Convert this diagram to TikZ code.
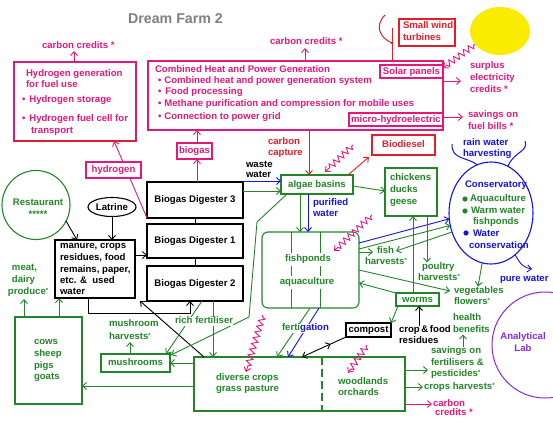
\documentclass[tikz,border=0pt]{standalone}
\usepackage{fontspec}
\setmainfont{Liberation Sans}
\usetikzlibrary{arrows.meta,fit,decorations.pathmorphing,decorations.markings,shapes.geometric}
\definecolor{mag}{RGB}{228,24,122}
\definecolor{rd}{RGB}{226,30,40}
\definecolor{gr}{RGB}{34,134,40}
\definecolor{bl}{RGB}{20,20,225}
\definecolor{pu}{RGB}{140,40,225}
\definecolor{sunc}{RGB}{250,236,0}
\definecolor{ttl}{RGB}{128,128,128}
\newcommand\ff{\bfseries\fontsize{9.6}{11.5}\selectfont}
\newcommand\sst{\raisebox{2pt}{\fontsize{6}{6}\selectfont*}}
\begin{document}
\begin{tikzpicture}[x=1pt,y=-1pt,
  every node/.style={inner sep=0pt,outer sep=0pt},
  t/.style={font=\ff,text height=7pt,text depth=2pt,anchor=west},
  tc/.style={font=\ff,text height=7pt,text depth=2pt,anchor=center},
  box/.style={draw,line width=1.1pt,font=\ff,text height=7pt,text depth=2pt},
  bsz/.style 2 args={minimum width=#1pt,minimum height=#2pt},
  ar/.style={-{Straight Barb[length=4pt,width=7pt]},line width=0.9pt},
  zz/.style={mag,line width=0.9pt,decorate,decoration={zigzag,segment length=6pt,amplitude=3pt,pre length=2pt,post length=4pt}},
  midback/.style={postaction={decorate},decoration={markings,mark=at position 0.35 with {\arrowreversed{Straight Barb[length=4pt,width=7pt]}}}}
]
\useasboundingbox (0,0) rectangle (553,423);
\fill[white] (0,0) rectangle (553,423);

% title
\node[font=\bfseries\fontsize{14.2}{16}\selectfont,text=ttl] (title) at (175.5,18.5) {Dream Farm 2};

% hydrogen generation
\node[box,draw=mag,fit={(14,62)(136,141)}] (hyd) {};
\draw[rd,line width=1.4pt] (hyd.south west) -- (hyd.south east);
\node[t,text=mag] (hyd1) at (26,74) {Hydrogen generation};
\node[t,text=mag] (hyd2) at (26,85) {for fuel use};
\node[t,text=mag] (hyd3) at (22,100) {•\hspace{4pt}Hydrogen storage};
\node[t,text=mag] (hyd4) at (22,119) {•\hspace{4pt}Hydrogen fuel cell for};
\node[t,text=mag] (hyd5) at (31,131) {transport};
\node[t,text=mag] (cc1) at (42,46) {carbon credits *};
\draw[ar,mag] (hyd.north -| 74,0) -- (74,51);

% CHP
\node[box,draw=mag,fit={(148,61)(443,130)}] (chp) {};
\node[t,text=mag] (chp0) at (155,70) {Combined Heat and Power Generation};
\node[t,text=mag] (chp1) at (158,81) {•\hspace{3pt}Combined heat and power generation system};
\node[t,text=mag] (chp2) at (158,92) {•\hspace{4pt}Food processing};
\node[t,text=mag] (chp3) at (158,104) {•\hspace{3pt}Methane purification and compression for mobile uses};
\node[t,text=mag] (chp4) at (158,117) {•\hspace{3pt}Connection to power grid};
\node[box,draw=mag,text=mag,fill=white,bsz={63}{13}] (solar) at (411.5,71.5) {Solar panels};
\node[box,draw=mag,text=mag,fill=white,bsz={94}{13}] (micro) at (396,119.5) {micro-hydroelectric};
\node[t,text=mag] (cc2) at (270,42) {carbon credits *};
\draw[ar,mag] (chp.north -| 305,0) -- (305,48);

% wind and sun
\node[box,draw=rd,fit={(399,19)(455,46)}] (wind) {};
\node[t,text=rd] (wind1) at (403,26) {Small wind};
\node[t,text=rd] (wind2) at (403,38) {turbines};
\draw[rd,line width=1pt] (chp.north -| 392,0) -- (392,28);
\draw[rd,line width=1pt] (385,15) .. controls (374,26) and (380,38) .. (392,43);
\fill[rd] (392,43) circle (1.5);
\node[ellipse,fill=sunc,minimum width=60pt,minimum height=48pt] (sun) at (500,31) {};
\draw[zz,ar] (sun.208) -- ([yshift=3.5pt]solar.east);

\node[t,text=mag] (sur1) at (470,66) {surplus};
\node[t,text=mag] (sur2) at (470,78) {electricity};
\node[t,text=mag] (sur3) at (470,90) {credits *};
\draw[ar,mag] (chp.east |- 0,81) -- (461,81);
\node[t,text=mag] (fb1) at (468,115) {savings on};
\node[t,text=mag] (fb2) at (468,127) {fuel bills *};
\draw[ar,mag] (micro.east |- 0,117) -- ([xshift=-5pt]fb1.west |- 0,117);

% algae, biodiesel
\node[box,draw=gr,text=gr,bsz={72}{19}] (alg) at (317,184.5) {algae basins};
\node[box,draw=rd,text=rd,bsz={63}{20}] (bio) at (403.5,145) {Biodiesel};
\node[t,text=rd] (cap1) at (268,142) {carbon};
\node[t,text=rd] (cap2) at (268,153) {capture};
\draw[ar,rd] (chp.south -| 309,0) -- (alg.north -| 309,0);
\draw[ar,rd] ([xshift=-5pt]alg.north east) -- ([xshift=-3pt,yshift=-2pt]bio.south west);
\draw[zz,ar] (353,145) -- (325,172);

% biogas digesters
\node[box,bsz={96}{36}] (bd3) at (195,200) {Biogas Digester 3};
\node[box,bsz={96}{34}] (bd1) at (195,241) {Biogas Digester 1};
\node[box,bsz={96}{35}] (bd2) at (195,283.5) {Biogas Digester 2};
\draw[line width=1pt] (bd3.south) -- (bd1.north);
\draw[line width=1pt] (bd1.south) -- (bd2.north);
\node[box,draw=mag,text=mag,bsz={35}{16}] (biogas) at (194.5,151) {biogas};
\draw[ar,mag] (bd3.north -| 197,0) -- (biogas.south -| 197,0);
\draw[ar,mag] (biogas.north -| 197,0) -- (chp.south -| 197,0);
\draw[ar,mag] (bd3.south west) -- (hyd.south -| 114,0);
\node[box,draw=mag,text=mag,fill=white,bsz={55}{16}] (hyg) at (113.5,170) {hydrogen};

\node[t] (ww1) at (246,165) {waste};
\node[t] (ww2) at (246,175) {water};
\draw[ar,bl] (bd3.east |- 0,181) -- (alg.west |- 0,181);
\draw[ar,gr] (bd3.east |- 0,191) -- (alg.west |- 0,191);

% latrine, restaurant, manure
\node[ellipse,draw,line width=1.1pt,minimum width=48pt,minimum height=19pt,font=\ff] (lat) at (112,207) {Latrine};
\node[ellipse,draw=gr,line width=1.1pt,minimum width=68pt,minimum height=69pt] (rest) at (36,205) {};
\node[tc,text=gr] (rest1) at (38,203) {Restaurant};
\node[tc,text=gr] (rest2) at (38,215) {*****};
\node[box,fit={(55,240)(135,298)}] (man) {};
\node[t] (man1) at (60,246) {manure, crops};
\node[t] (man2) at (60,258) {residues, food};
\node[t] (man3) at (60,270) {remains, paper,};
\node[t] (man4) at (60,281) {etc. \&\ \ used};
\node[t] (man5) at (60,292) {water};
\draw[ar] (lat.south) -- (lat.south |- man.north);
\draw[ar] (rest.332) -- (man.north -| 77,0);
\draw[ar] (man.east |- 0,255) -- (bd1.west |- 0,255);
\draw[ar] (man.south -| 88,0) -- (88,313) -- (190,313) -- (bd2.south -| 190,0);

% cows
\node[box,draw=gr,fit={(15,317)(82,404)}] (cows) {};
\node[t,text=gr] (cow1) at (34,342) {cows};
\node[t,text=gr] (cow2) at (34,354) {sheep};
\node[t,text=gr] (cow3) at (34,366) {pigs};
\node[t,text=gr] (cow4) at (34,377) {goats};
\node[t,text=gr] (mt1) at (12,268) {meat,};
\node[t,text=gr] (mt2) at (12,280) {dairy};
\node[t,text=gr] (mt3) at (8,292) {produce\sst};
\draw[ar,gr] (cows.north -| 24,0) -- (24,299);
\draw[ar,gr] (cows.north -| 59,0) -- (man.south -| 59,0);

% crops
\node[box,draw=gr,fit={(194,357)(405,411)}] (crops) {};
\draw[gr,line width=1.1pt,dash pattern=on 8pt off 4pt] (crops.north -| 322,0) -- (crops.south -| 322,0);
\node[t,text=gr] (cr1) at (216,378) {diverse crops};
\node[t,text=gr] (cr2) at (216,389) {grass pasture};
\node[t,text=gr] (wd1) at (338,382) {woodlands};
\node[t,text=gr] (wd2) at (338,393) {orchards};
\draw[ar] ([xshift=10pt]crops.north west) -- ([xshift=5pt,yshift=-3pt]man.south east);
\draw[ar,gr] (crops.west |- 0,386) -- (cows.east |- 0,386);

% mushrooms
\node[box,draw=gr,text=gr,bsz={69}{18}] (mush) at (135.5,363) {mushrooms};
\draw[ar,gr] (crops.west |- mush.east) -- (mush.east);
\draw[ar,gr] (mush.north -| 130,0) -- (130,342);
\draw[ar,gr] (bd2.south -| 202,0) -- ([xshift=-4pt]mush.north east);
\draw[ar,gr] ([xshift=6pt]alg.south west) -- (257,222) -- (249,317) -- ([xshift=1pt,yshift=-1pt]mush.north east);
\draw[ar,gr] (bd2.south -| 213,0) -- (crops.north -| 213,0);
\node[t,text=gr] (mh1) at (109,324) {mushroom};
\node[t,text=gr] (mh2) at (109,337) {harvests\sst};
\node[t,text=gr,fill=white] (rf) at (175,321) {rich fertiliser};

% fishponds
\node[draw=gr,line width=1.1pt,rounded corners=6pt,fit={(262,232)(359,308)}] (fish) {};
\draw[gr,line width=1pt] (fish.north -| 291,0) -- (fish.south -| 291,0);
\draw[gr,line width=1pt] (fish.north -| 320,0) -- (fish.south -| 320,0);
\node[tc,text=gr,fill=white,inner ysep=2pt] (fp1) at (308,259) {fishponds};
\node[tc,text=gr,fill=white,inner ysep=2pt] (fp2) at (307,282) {aquaculture};
\draw[ar,gr] (alg.south -| 300,0) -- (fish.north -| 300,0);
\draw[ar,bl] (alg.south -| 308,0) -- (fish.north -| 308,0);
\node[t,text=bl] (pw1) at (313,203) {purified};
\node[t,text=bl] (pw2) at (313,214) {water};
\draw[zz,ar] (372,215) -- (334,251);

% chickens
\node[box,draw=gr,fit={(385,168)(437,216)}] (chk) {};
\node[t,text=gr] (ch1) at (390,178) {chickens};
\node[t,text=gr] (ch2) at (390,190) {ducks};
\node[t,text=gr] (ch3) at (390,202) {geese};
\draw[ar,gr] (alg.east |- 0,186) -- (chk.west |- 0,191);

% conservatory
\node[ellipse,draw=bl,line width=1.1pt,minimum width=84pt,minimum height=102pt] (cons) at (491,213) {};
\node[tc,text=bl] (cn0) at (496,185) {Conservatory};
\fill[gr] (465,199) circle (2.6);
\node[t,text=gr] (cn1) at (470,199) {Aquaculture};
\fill[gr] (465,211) circle (2.6);
\node[t,text=gr] (cn2) at (471,211) {Warm water};
\node[t,text=gr] (cn3) at (473,222) {fishponds};
\fill[bl] (466,233) circle (2.6);
\node[t,text=bl] (cn4) at (473,234) {Water};
\node[t,text=bl] (cn5) at (469,246) {conservation};
\node[t,text=bl] (rw1) at (463,143) {rain water};
\node[t,text=bl] (rw2) at (463,154) {harvesting};
\draw[bl,line width=1pt] (452,144) .. controls (451,160) and (468,157) .. (cons.106);
\draw[bl,line width=1pt] (525,141) .. controls (529,152) and (514,151) .. (cons.70);
\node[t,text=bl] (pure) at (500,279) {pure water};
\draw[ar,bl] (cons.300) .. controls (520,264) and (524,268) .. (532,269);

\node[ellipse,draw=pu,line width=1pt,minimum width=106pt,minimum height=106pt] (lab) at (545,345) {};
\node[tc,text=pu] (lab1) at (523,337) {Analytical};
\node[tc,text=pu] (lab2) at (523,349) {Lab};

% fish harvests etc
\node[t,text=gr] (fh1) at (377,251) {fish};
\node[t,text=gr] (fh2) at (365,262) {harvests\sst};
\draw[ar,bl] (fish.east |- 0,243) -- (cons.188);
\draw[ar,gr] (fish.east |- 0,249) -- (cons.197);
\draw[ar,gr] (cons.206) -- ([xshift=2pt]fh1.east);
\draw[ar,gr] (fish.east |- 0,252) -- ([xshift=-4pt]fh1.west |- 0,252);
\node[t,text=gr] (pl1) at (422,267) {poultry};
\node[t,text=gr] (pl2) at (418,278) {harvests\sst};
\draw[ar,gr] (chk.south -| 427,0) -- (pl1.north -| 427,0);

% worms, compost
\node[box,draw=gr,text=gr,bsz={43}{13}] (worms) at (417.5,299.5) {worms};
\node[box,line width=1.3pt,bsz={45}{14}] (comp) at (368.5,330) {compost};
\draw[ar,gr] (worms.north -| 413,0) -- (chk.south -| 413,0);
\draw[ar,gr] (worms.north west) -- (fish.east |- 0,283);
\node[t,text=gr] (vg1) at (454,291) {vegetables};
\node[t,text=gr] (vg2) at (454,302) {flowers\sst};
\draw[ar,gr] (fish.east |- 0,270) -- ([xshift=-4pt]vg1.west);
\draw[ar,gr] (cons.260) -- ([xshift=24pt]vg1.north west);
\draw[ar,gr] ([xshift=2pt]worms.south west) -- (comp.north east);
\node[t] (cf1) at (399,330) {crop\,\&\,food};
\node[t] (cf2) at (399,341) {residues};
\draw[ar] (cf1.north -| 419,0) -- (worms.south -| 419,0);
\draw[ar,midback] (comp.south west) -- (crops.north -| 302,0);

% fertigation
\draw[ar,gr] (fish.south -| 310,0) -- (crops.north -| 277,0);
\draw[ar,bl] (fish.south -| 319,0) -- (crops.north -| 288,0);
\node[t,fill=white] (fert) at (282,328) {\textcolor{gr}{ferti}\textcolor{bl}{gation}};

\draw[zz,ar] (263,315) -- (246,372);
\draw[zz,ar] (367,345) -- (348,373);

% right side outputs
\node[t,text=gr] (hb1) at (453,318) {health};
\node[t,text=gr] (hb2) at (453,330) {benefits};
\node[t,text=gr] (sv1) at (431,351) {savings on};
\node[t,text=gr] (sv2) at (431,363) {fertilisers \&};
\node[t,text=gr] (sv3) at (431,374) {pesticides\sst};
\node[t,text=gr] (chv) at (424,387) {crops harvests\sst};
\node[t,text=mag] (cc3) at (433,404) {carbon};
\node[t,text=mag] (cc4) at (435,413) {credits *};
\draw[ar,gr] (sv1.north -| 463,0) -- (hb2.south -| 463,0);
\draw[ar,gr] (crops.east |- 0,370) -- ([xshift=-3pt]sv1.west |- 0,370);
\draw[ar,gr] (crops.east |- chv.west) -- ([xshift=-1pt]chv.west);
\draw[ar,mag] (crops.east |- cc3.west) -- ([xshift=-1pt]cc3.west);
\end{tikzpicture}
\end{document}
